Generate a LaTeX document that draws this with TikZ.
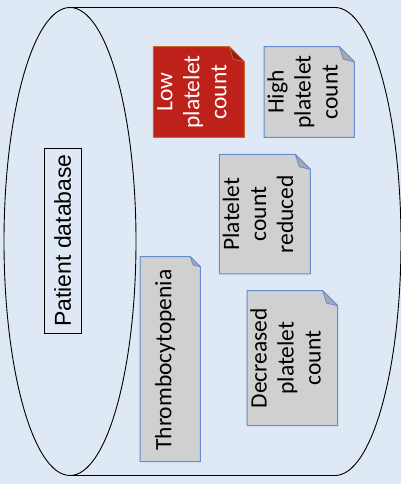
\documentclass[tikz,border=0pt]{standalone}
\usepackage{fontspec}
\setmainfont{Carlito}
\newfontfamily\arialfont{Liberation Sans}
\definecolor{paleBlue}{RGB}{222,233,245}
\definecolor{noteGray}{RGB}{208,208,208}
\definecolor{foldGray}{RGB}{170,170,170}
\definecolor{noteBlue}{RGB}{100,140,210}
\definecolor{alertRed}{RGB}{190,32,26}
\definecolor{foldRed}{RGB}{150,24,18}
\definecolor{alertEdge}{RGB}{200,100,40}

\begin{document}
\begin{tikzpicture}[x=1pt, y=1pt,
    graynote/.style={fill=noteGray, draw=noteBlue, line width=1pt, line join=round},
    grayfold/.style={fill=foldGray, draw=noteBlue, line width=0.8pt, line join=round},
    rednote/.style={fill=alertRed, draw=alertEdge, line width=1pt, line join=round},
    redfold/.style={fill=foldRed, draw=alertEdge, line width=0.8pt, line join=round},
    notetext/.style={rotate=90, align=center, inner sep=0pt,
        font=\fontsize{23.5}{27}\selectfont}]

            % background
            \fill[paleBlue] (0,0) rectangle (401,484);
            \useasboundingbox (0,0) rectangle (401,484);

            % database cylinder
            \draw[line width = 0.9pt] (70,242.5) ellipse [x radius=66pt, y radius=234pt];
            \draw[line width = 0.9pt] (70,476.5) -- (335,476.5)
                arc [start angle=90, end angle=-90, x radius=66pt, y radius=234pt]
                -- (70,8.5);
            \node[draw, line width=0.9pt, rotate=90, inner sep=0pt,
                minimum width=185pt, minimum height=36.7pt,
                font=\arialfont\fontsize{23}{27}\selectfont] (patientdb) at (62.7,243.5) {Patient database};

            % low platelet count
            \filldraw[rednote] (153.3,437.3) -- (229.3,437.3) -- (244.3,422.3) -- (244.3,346.7) -- (153.3,346.7) -- cycle;
            \filldraw[redfold] (229.3,437.3) -- (244.3,422.3) -- (233.3,424.8) -- cycle;
            \node[notetext, text=white] (low) at (192,392) {Low\\platelet\\count};

            % high platelet count
            \filldraw[graynote] (264,437.3) -- (339.3,437.3) -- (354.3,422.3) -- (354.3,346.7) -- (264,346.7) -- cycle;
            \filldraw[grayfold] (339.3,437.3) -- (354.3,422.3) -- (343.3,424.8) -- cycle;
            \node[notetext] (high) at (302.5,392) {High\\platelet\\count};

            % platelet count reduced
            \filldraw[graynote] (219.3,329.7) -- (295.3,329.7) -- (310.3,314.7) -- (310.3,210) -- (219.3,210) -- cycle;
            \filldraw[grayfold] (295.3,329.7) -- (310.3,314.7) -- (299.3,317.2) -- cycle;
            \node[notetext] (reduced) at (258,269.8) {Platelet\\count\\reduced};

            % thrombocytopenia
            \filldraw[graynote] (140,227.3) -- (190.3,227.3) -- (200.3,217.3) -- (200.3,22.3) -- (140,22.3) -- cycle;
            \filldraw[grayfold] (190.3,227.3) -- (200.3,217.3) -- (193,219) -- cycle;
            \node[notetext] (thrombo) at (165,124) {Thrombocytopenia};

            % decreased platelet count
            \filldraw[graynote] (247,193.3) -- (322.7,193.3) -- (337.7,178.3) -- (337.7,58.3) -- (247,58.3) -- cycle;
            \filldraw[grayfold] (322.7,193.3) -- (337.7,178.3) -- (326.7,180.8) -- cycle;
            \node[notetext] (decreased) at (285.5,125.8) {Decreased\\platelet\\count};

\end{tikzpicture}
\end{document}
